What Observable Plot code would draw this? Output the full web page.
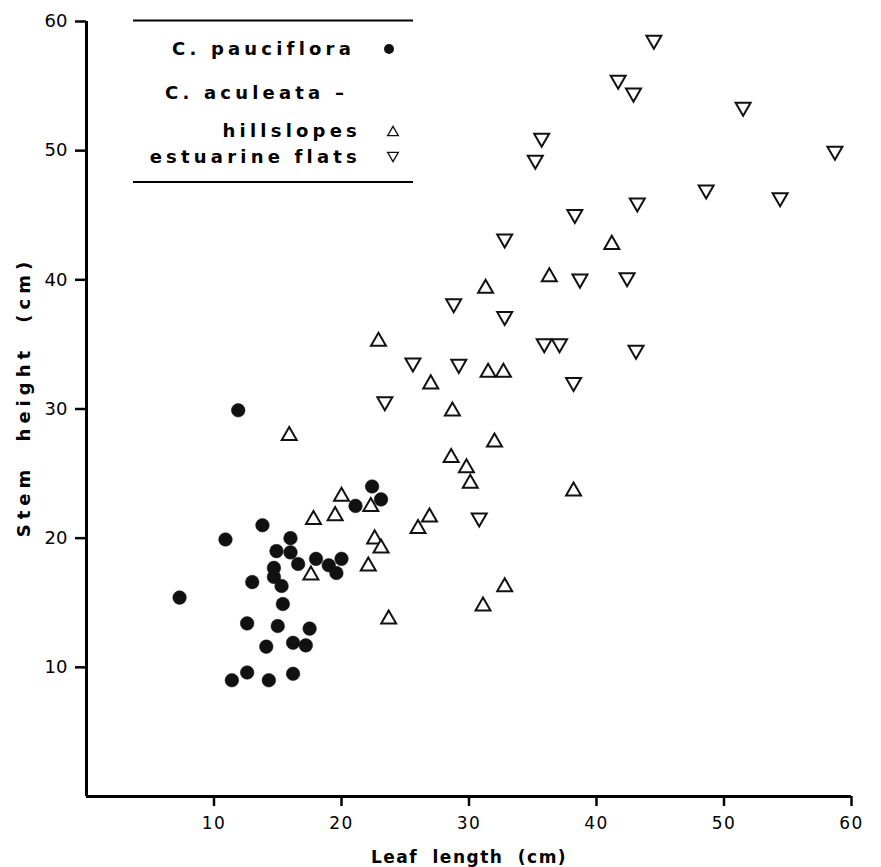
<!DOCTYPE html>
<html>
<head>
<meta charset="utf-8">
<script src="https://cdn.jsdelivr.net/npm/d3@7"></script>
<script src="https://cdn.jsdelivr.net/npm/@observablehq/plot@0.6"></script>
<style>
  html, body { margin: 0; padding: 0; background: #fff; }
  #wrap { position: relative; width: 881px; height: 867px; }
  #legend { position: absolute; left: 0; top: 0; }
  text { font-family: "DejaVu Sans", sans-serif; }
</style>
</head>
<body>
<div id="wrap"></div>
<script>
// C. pauciflora
const paucX = [13.8,10.9,16.0,14.9,16.0,16.6,18.0,19.0,20.0,19.6,14.7,14.7,15.3,13.0,7.3,15.4,12.6,15.0,17.5,14.1,16.2,17.2,11.4,12.6,14.3,16.2,22.4,23.1,21.1,11.9];
const paucY = [21.0,19.9,20.0,19.0,18.9,18.0,18.4,17.9,18.4,17.3,17.7,17.0,16.3,16.6,15.4,14.9,13.4,13.2,13.0,11.6,11.9,11.7,9.0,9.6,9.0,9.5,24.0,23.0,22.5,29.9];
// C. aculeata – hillslopes
const hillX = [41.2,36.3,31.3,22.9,31.5,32.7,27.0,28.7,32.0,28.6,29.8,30.1,38.2,20.0,22.3,19.5,17.8,26.9,26.0,22.6,23.1,22.1,17.6,32.8,31.1,23.7,15.9];
const hillY = [42.9,40.4,39.5,35.4,33.0,33.0,32.1,30.0,27.6,26.4,25.6,24.4,23.8,23.4,22.6,21.9,21.6,21.8,20.9,20.1,19.4,18.0,17.3,16.4,14.9,13.9,28.1];
// C. aculeata – estuarine flats
const estX = [44.5,41.7,42.9,51.5,58.7,35.7,35.2,48.6,54.4,43.2,38.3,32.8,38.7,42.4,28.8,32.8,43.1,35.9,37.1,38.2,25.6,29.2,23.4,30.8];
const estY = [58.4,55.3,54.3,53.2,49.8,50.8,49.1,46.8,46.2,45.8,44.9,43.0,39.9,40.0,38.0,37.0,34.4,34.9,34.9,31.9,33.4,33.3,30.4,21.4];

const xTicks = [10,20,30,40,50,60];
const yTicks = [10,20,30,40,50,60];
const xLabel = "Leaf length (cm)";
const yLabel = "Stem height (cm)";

const legendItems = [
  {label: "C. pauciflora", symbol: "circle"},
  {label: "C. aculeata –", symbol: null},
  {label: "hillslopes", symbol: "up"},
  {label: "estuarine flats", symbol: "down"}
];

const toRows = (xs, ys) => xs.map((x, i) => ({x, y: ys[i]}));
const pauc = toRows(paucX, paucY);
const hill = toRows(hillX, hillY);
const est = toRows(estX, estY);

const triUp = {
  draw(ctx, size) {
    const r = Math.sqrt(size / Math.PI);
    const hw = r * 1.07, hh = r * 0.93;
    ctx.moveTo(0, -hh); ctx.lineTo(hw, hh); ctx.lineTo(-hw, hh); ctx.closePath();
  }
};
const triDown = {
  draw(ctx, size) {
    const r = Math.sqrt(size / Math.PI);
    const hw = r * 1.07, hh = r * 0.93;
    ctx.moveTo(0, hh); ctx.lineTo(hw, -hh); ctx.lineTo(-hw, -hh); ctx.closePath();
  }
};

const chart = Plot.plot({
  width: 881,
  height: 867,
  marginLeft: 86,
  marginRight: 30,
  marginTop: 21,
  marginBottom: 71,
  x: {domain: [0, 60]},
  y: {domain: [0, 60]},
  style: {fontFamily: "'DejaVu Sans', sans-serif", color: "#000", background: "#fff"},
  marks: [
    Plot.ruleY([0], {stroke: "#000", strokeWidth: 3}),
    Plot.ruleX([0], {stroke: "#000", strokeWidth: 3}),
    Plot.axisX({ticks: xTicks, tickSize: 10, tickPadding: 10, label: null, fontSize: 17, stroke: "#000", strokeWidth: 2.5, strokeOpacity: 1}),
    Plot.axisY({ticks: yTicks, tickSize: 11, tickPadding: 8, label: null, fontSize: 18, stroke: "#000", strokeWidth: 2.5, strokeOpacity: 1}),
    Plot.dot(pauc, {x: "x", y: "y", r: 6.8, fill: "#111", stroke: "#111", strokeWidth: 0.5, symbol: "circle"}),
    Plot.dot(hill, {x: "x", y: "y", r: 7, fill: "#fff", stroke: "#111", strokeWidth: 2, symbol: triUp}),
    Plot.dot(est, {x: "x", y: "y", r: 7, fill: "#fff", stroke: "#111", strokeWidth: 2, symbol: triDown}),
    Plot.text([xLabel], {frameAnchor: "bottom", textAnchor: "middle", text: d => d, dy: 66, lineAnchor: "bottom", fontSize: 17, fontWeight: "bold", fill: "#000"}),
    Plot.text([yLabel], {frameAnchor: "left", textAnchor: "middle", text: d => d, dx: -62, dy: -12, rotate: -90, fontSize: 18, fontWeight: "bold", fill: "#000"})
  ]
});

const svgSel = d3.select(chart);
svgSel.selectAll("text")
  .filter(function() { return this.textContent === xLabel; })
  .style("letter-spacing", "1.5px").style("word-spacing", "7px");
svgSel.selectAll("text")
  .filter(function() { return this.textContent === yLabel; })
  .style("letter-spacing", "5px").style("word-spacing", "12px");
svgSel.selectAll("[aria-label='x-axis tick label'] text, [aria-label='x-axis tick label']")
  .style("letter-spacing", "1.5px");

const wrap = document.getElementById("wrap");
wrap.appendChild(chart);

// Legend overlay
const lg = d3.select(wrap).append("svg").attr("id", "legend").attr("width", 881).attr("height", 200);
lg.append("line").attr("x1", 133).attr("x2", 413).attr("y1", 20.5).attr("y2", 20.5).attr("stroke", "#000").attr("stroke-width", 2);
lg.append("line").attr("x1", 133).attr("x2", 413).attr("y1", 182).attr("y2", 182).attr("stroke", "#000").attr("stroke-width", 2);
const rowsY = [55, 99, 137, 163];
const rowsEnd = [351, null, 357, 357];
legendItems.forEach((it, i) => {
  const t = lg.append("text")
    .attr("y", rowsY[i])
    .attr("font-size", 18)
    .attr("font-weight", "bold")
    .style("letter-spacing", "4.2px")
    .text(it.label);
  if (it.symbol === null) {
    t.attr("x", 165).attr("text-anchor", "start");
  } else {
    t.attr("x", rowsEnd[i] + 4).attr("text-anchor", "end");
  }
  const cy = rowsY[i] - 6;
  if (it.symbol === "circle") {
    lg.append("circle").attr("cx", 389).attr("cy", cy).attr("r", 5).attr("fill", "#111");
  } else if (it.symbol === "up") {
    lg.append("path").attr("d", d3.symbol(triUp, 5 * 5 * Math.PI)()).attr("transform", `translate(393,${cy})`).attr("fill", "none").attr("stroke", "#111").attr("stroke-width", 1.3);
  } else if (it.symbol === "down") {
    lg.append("path").attr("d", d3.symbol(triDown, 5 * 5 * Math.PI)()).attr("transform", `translate(393,${cy})`).attr("fill", "none").attr("stroke", "#111").attr("stroke-width", 1.3);
  }
});
</script>
</body>
</html>
